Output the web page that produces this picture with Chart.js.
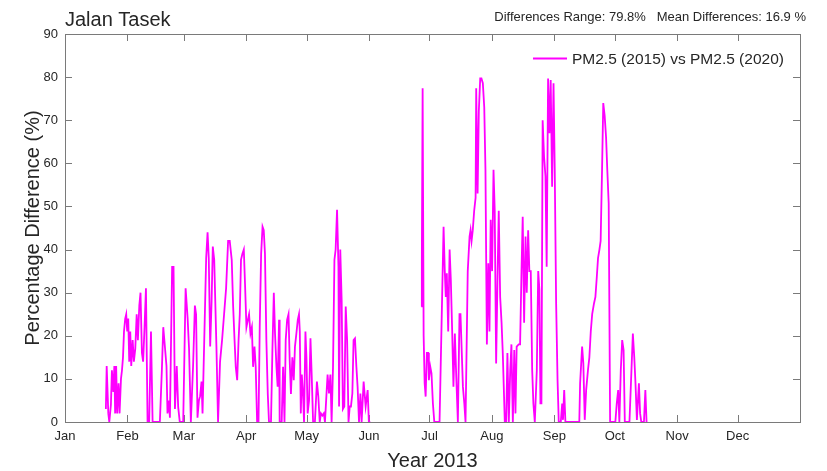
<!DOCTYPE html>
<html>
<head>
<meta charset="utf-8">
<script src="https://cdn.jsdelivr.net/npm/chart.js@4/dist/chart.umd.min.js"></script>
<style>
  html, body { margin: 0; padding: 0; background: #fff; }
  #wrap { width: 827px; height: 471px; }
</style>
</head>
<body>
<div id="wrap"><canvas id="pmCanvas" width="827" height="471"></canvas></div>
<script>
// month ticks (day of year 2013)
var monthStarts = [0, 31, 59, 90, 120, 151, 181, 212, 243, 273, 304, 334];
var monthLabels = ['Jan', 'Feb', 'Mar', 'Apr', 'May', 'Jun', 'Jul', 'Aug', 'Sep', 'Oct', 'Nov', 'Dec'];

// day of year and % difference, null = no data (June gap)
var dayOfYear = [
  20.3, 20.7, 21.5, 22.0, 22.8, 23.3, 24.0, 24.5, 24.9, 25.4, 25.9, 26.6, 27.1, 27.8, 28.3, 28.8,
  29.3, 29.9, 30.4, 30.9, 31.4, 31.9, 32.4, 32.9, 33.6, 34.2, 34.9, 35.6, 36.2, 36.9, 37.5, 38.2,
  38.8, 39.5, 40.2, 41.0, 41.8, 42.7, 43.5, 47.1, 48.1, 48.8, 49.1, 50.4, 50.9, 51.6, 52.1, 53.2,
  53.9, 54.6, 55.5, 56.2, 57.0, 58.7, 59.9, 60.9, 61.6, 62.5, 63.6, 64.5, 65.1, 65.8, 66.5, 67.1,
  67.8, 68.3, 69.1, 70.1, 70.8, 71.4, 72.1, 72.8, 73.4, 74.1, 75.2, 76.0, 77.0, 78.0, 79.0, 80.0,
  81.0, 81.8, 82.8, 83.5, 84.2, 84.8, 85.5, 86.2, 86.8, 87.4, 88.1, 88.8, 89.4, 90.1, 90.8, 91.4,
  92.1, 92.8, 93.4, 94.1, 94.7, 95.4, 96.1, 96.7, 97.4, 98.1, 98.7, 99.3, 100.0, 100.7, 101.3, 102.3,
  103.0, 103.7, 104.3, 105.0, 105.6, 106.3, 106.6, 107.6, 108.3, 109.0, 109.6, 110.3, 111.0, 111.6, 112.2, 112.9,
  113.6, 114.2, 114.9, 115.6, 116.2, 116.6, 117.1, 117.6, 118.2, 118.7, 119.4, 119.9, 120.5, 121.2, 121.9, 122.5,
  123.2, 124.1, 125.1, 125.8, 126.5, 127.1, 127.8, 128.5, 129.1, 129.8, 130.4, 131.1, 131.8, 132.4, 133.1, 133.8,
  134.4, 135.1, 135.8, 136.1, 136.7, 137.4, 138.0, 138.7, 139.4, 140.1, 140.8, 141.4, 142.0, 142.7, 143.3, 144.0,
  144.7, 145.3, 146.0, 146.7, 147.3, 148.3, 149.3, 150.3, 150.9, 151.6,
  164,
  176.9, 177.2, 177.6, 178.1, 178.6, 179.1, 179.7, 180.4, 180.7, 181.4, 182.0, 182.7, 183.4, 186.0, 188.0, 188.6,
  189.1, 189.6, 190.3, 191.0, 191.6, 192.3, 192.9, 193.6, 194.3, 195.1, 195.9, 196.4, 196.9, 197.6, 198.3, 198.9,
  200.0, 200.9, 201.4, 201.9, 202.5, 203.2, 203.9, 204.2, 204.9, 205.5, 206.2, 206.8, 207.5, 208.2, 208.8, 209.5,
  210.2, 210.8, 211.4, 212.1, 212.8, 213.4, 214.1, 214.8, 215.4, 216.1, 216.8, 217.4, 218.4, 219.1, 219.7, 220.4,
  221.1, 221.7, 222.4, 223.1, 223.7, 224.3, 225.3, 226.0, 226.7, 227.3, 228.0, 228.7, 229.3, 230.0, 230.6, 231.3,
  232.0, 232.6, 233.3, 234.3, 235.0, 235.6, 236.1, 236.6, 237.2, 237.9, 238.6, 239.2, 239.9, 240.6, 241.2, 241.9,
  242.6, 243.2, 243.9, 244.6, 245.2, 246.2, 246.9, 247.3, 247.9, 248.5, 255.4, 255.8, 256.8, 257.4, 258.1, 258.8,
  259.7, 260.4, 261.1, 261.8, 262.7, 263.4, 264.1, 264.7, 265.4, 266.0, 266.7, 267.3, 268.0, 268.7, 269.3, 270.0,
  270.7, 273.3, 274.0, 274.7, 275.3, 276.0, 276.7, 277.4, 278.0, 280.3, 282.0, 282.7, 283.3, 284.0, 285.0, 285.6,
  286.2, 287.5, 288.2, 288.8
];
var pctDiff = [
  3, 13, 2, 0, 4, 12, 7, 13, 2, 13, 2, 9, 2, 10, 12, 15,
  21, 24, 25, 21, 24, 14, 21, 13, 19, 14, 17, 25, 19, 27, 30, 16,
  14, 22, 31, 0, 0, 21, 0, 0, 12, 22, 22, 13, 2, 5, 1, 36,
  36, 3, 13, 3.5, 0, 0, 31, 24, 17, 0, 13, 27, 25, 1, 5, 6,
  9.4, 2, 18, 38, 44, 38, 17.5, 28, 40.7, 37.6, 17.5, 0, 14, 19, 25, 31,
  42, 42, 37.6, 26.8, 19, 12.8, 9.7, 19, 25, 37.6, 39, 40, 32, 22, 23.7, 25,
  20.5, 22, 12.8, 17.5, 12.8, 0, 0, 22, 39, 45.3, 44.5, 39, 19, 6.5, 0, 0,
  16.7, 30, 20.5, 12.8, 8.2, 23.7, 0, 0, 12.8, 0, 19, 23.7, 25, 14, 6.5, 15,
  9.7, 17.5, 20.5, 23.7, 25, 21, 2, 11, 6.6, 0, 21, 15, 2, 5, 19.4, 11,
  0, 0, 9.4, 5.9, 0, 2, 1.5, 2, 0, 6, 11, 6.6, 11, 0, 12.8, 37.6,
  40, 49.2, 36, 3.6, 40, 28, 3, 3.6, 26.8, 19, 0, 3.6, 3.6, 6.6, 19, 19.4,
  12.8, 8.2, 0, 6.6, 0, 9.4, 3.6, 7.4, 0, 0,
  null,
  26.8, 36.8, 77.4, 20, 9, 5.9, 16, 16, 9.7, 12.8, 11.3, 4.3, 0, 0, 45.3, 35,
  29, 34.5, 21, 40, 33, 20.5, 8.2, 20.5, 10.5, 0, 25, 25, 18, 8.2, 4.3, 0,
  35, 43, 44.5, 42, 44.5, 49, 52, 77.4, 53, 72, 79.7, 79.7, 78.6, 73, 58.5, 18,
  36.8, 21, 46.9, 35, 58.5, 49, 13.6, 33.7, 49, 29, 23, 16, 0, 0, 16, 0,
  12, 18, 0, 16.7, 2, 17.5, 18, 18, 35, 47.6, 23, 43, 30, 44.5, 35, 35,
  12, 4.3, 0, 12, 35, 30.6, 4.3, 4.3, 70, 61.5, 57, 36, 79.7, 67, 79.3, 54.6,
  78.6, 58.5, 27.5, 9.7, 0, 0, 4.3, 0.5, 7.4, 0, 0, 9, 17.5, 13.6, 0.5, 7.4,
  12, 15, 21, 25, 27.5, 29, 33.7, 38, 40, 42, 58.5, 74, 71, 66, 58.5, 50.7,
  0, 0, 4.3, 7.4, 0, 12, 19, 16.7, 0, 0, 20.5, 15, 9, 0.5, 9, 2,
  0, 0, 7.4, 0
];

var seriesLabel = 'PM2.5 (2015) vs PM2.5 (2020)';
var titleText = 'Jalan Tasek';
var statsText = 'Differences Range: 79.8%   Mean Differences: 16.9 %';

var FONT = '"Liberation Sans", Arial, Helvetica, sans-serif';
var TEXT = '#262626';
var MAGENTA = '#ff00ff';

// matlab style box with ticks pointing inwards, plus the free text
var matlabBox = {
    id: 'matlabBox',
    beforeDatasetsDraw: function (chart) {
        var ctx = chart.ctx, a = chart.chartArea;
        var xs = chart.scales.x, ys = chart.scales.y;
        var tl = 7;
        ctx.save();
        ctx.strokeStyle = '#7a7a7a';
        ctx.lineWidth = 1;
        ctx.strokeRect(Math.round(a.left) + 0.5, Math.round(a.top) + 0.5,
            Math.round(a.right - a.left), Math.round(a.bottom - a.top));
        ctx.beginPath();
        monthStarts.forEach(function (d) {
            var px = Math.round(xs.getPixelForValue(d)) + 0.5;
            ctx.moveTo(px, a.bottom); ctx.lineTo(px, a.bottom - tl);
            ctx.moveTo(px, a.top); ctx.lineTo(px, a.top + tl);
        });
        ys.ticks.forEach(function (t) {
            var py = Math.round(ys.getPixelForValue(t.value)) + 0.5;
            ctx.moveTo(a.left, py); ctx.lineTo(a.left + tl, py);
            ctx.moveTo(a.right, py); ctx.lineTo(a.right - tl, py);
        });
        ctx.stroke();
        ctx.restore();
    },
    afterDraw: function (chart) {
        var ctx = chart.ctx, a = chart.chartArea;
        ctx.save();
        ctx.fillStyle = TEXT;
        ctx.textBaseline = 'alphabetic';

        ctx.font = '20px ' + FONT;
        ctx.textAlign = 'left';
        ctx.fillText(titleText, a.left, 25.5);

        ctx.font = '13px ' + FONT;
        ctx.textAlign = 'right';
        ctx.fillText(statsText, 806, 21);

        // axis titles
        ctx.font = '20px ' + FONT;
        ctx.textAlign = 'center';
        ctx.fillText('Year 2013', (a.left + a.right) / 2, 467);
        ctx.save();
        ctx.translate(33, (a.top + a.bottom) / 2);
        ctx.rotate(-Math.PI / 2);
        ctx.textBaseline = 'middle';
        ctx.fillText('Percentage Difference (%)', 0, 0);
        ctx.restore();

        // legend
        ctx.strokeStyle = MAGENTA;
        ctx.lineWidth = 1.8;
        ctx.beginPath();
        ctx.moveTo(533, 58.5);
        ctx.lineTo(567, 58.5);
        ctx.stroke();
        ctx.font = '15.5px ' + FONT;
        ctx.textAlign = 'left';
        ctx.fillText(seriesLabel, 572, 64);
        ctx.restore();
    }
};

var points = dayOfYear.map(function (d, i) {
    return { x: d, y: pctDiff[i] };
});

new Chart(document.getElementById('pmCanvas'), {
    type: 'line',
    data: {
        datasets: [{
            label: seriesLabel,
            data: points,
            borderColor: MAGENTA,
            backgroundColor: MAGENTA,
            borderWidth: 1.8,
            pointRadius: 0,
            tension: 0,
            spanGaps: false,
            fill: false
        }]
    },
    options: {
        responsive: false,
        animation: false,
        layout: { padding: { top: 34, right: 27, left: 0, bottom: 0 } },
        plugins: {
            legend: { display: false },
            tooltip: { enabled: false }
        },
        scales: {
            x: {
                type: 'linear',
                min: 0,
                max: 365,
                grid: { display: false, drawTicks: false },
                border: { display: false },
                afterBuildTicks: function (scale) {
                    scale.ticks = monthStarts.map(function (d) { return { value: d }; });
                },
                afterFit: function (scale) { scale.height = 49; },
                ticks: {
                    autoSkip: false,
                    maxRotation: 0,
                    padding: 7,
                    color: TEXT,
                    font: { family: FONT, size: 13 },
                    callback: function (value, index) { return monthLabels[index]; }
                }
            },
            y: {
                min: 0,
                max: 90,
                grid: { display: false, drawTicks: false },
                border: { display: false },
                afterFit: function (scale) { scale.width = 65; },
                ticks: {
                    stepSize: 10,
                    padding: 7,
                    color: TEXT,
                    font: { family: FONT, size: 13 }
                }
            }
        }
    },
    plugins: [matlabBox]
});
</script>
</body>
</html>
